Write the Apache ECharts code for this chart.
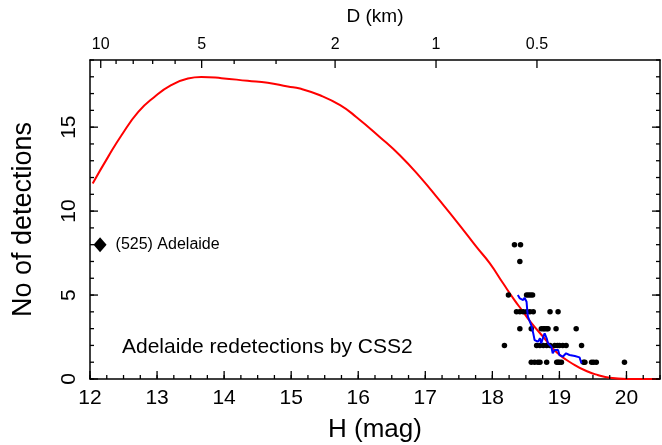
<!DOCTYPE html>
<html>
<head>
<meta charset="utf-8">
<script src="https://cdn.jsdelivr.net/npm/echarts@6/dist/echarts.min.js"></script>
<style>html,body{margin:0;padding:0;background:#fff}#c{width:662px;height:445px}</style>
</head>
<body>
<div id="c"></div>
<script>
// ---- data ----
var redH = [12.04,12.27,12.47,12.72,12.96,13.21,13.46,13.66,13.96,14.35,14.65,14.95,15.13,15.43,15.73,15.97,16.32,16.62,16.92,17.21,17.51,17.76,17.96,18.16,18.33,18.46,18.56,18.76,18.97,19.23,19.43,19.57,19.75,20.0,20.5];
var redN = [11.65,13.23,14.52,15.91,16.80,17.50,17.90,17.99,17.92,17.76,17.64,17.42,17.30,16.90,16.31,15.61,14.42,13.33,12.04,10.65,9.17,7.88,6.9,5.7,4.7,4.0,3.45,2.5,1.55,0.83,0.43,0.24,0.07,0.0,0.0];

var blueH = [18.38,18.41,18.43,18.46,18.48,18.51,18.52,18.53,18.58,18.61,18.63,18.68,18.71,18.73,18.76,18.78,18.81,18.83,18.88,18.90,18.93,18.95,18.98,19.00,19.05,19.10,19.15,19.23,19.30,19.33];
var blueN = [5.0,4.80,4.90,4.70,4.84,4.60,4.11,3.71,3.21,2.72,2.32,2.22,2.42,2.13,2.52,2.72,2.42,2.13,1.92,1.53,1.73,1.83,1.73,1.43,1.33,1.53,1.43,1.37,1.29,0.93];

var dotH = [18.33,18.42,
            18.41,
            18.24,18.51,18.54,18.57,18.60,
            18.36,18.41,18.46,18.51,18.56,18.61,18.86,18.98,
            18.41,18.58,18.73,18.76,18.78,18.81,18.83,18.95,19.25,
            18.18,18.66,18.71,18.76,18.81,18.86,18.93,18.97,19.00,19.05,19.10,19.33,
            18.58,18.63,18.68,18.71,18.81,18.96,18.98,19.00,19.03,19.36,19.38,19.48,19.51,19.55,19.97];
var dotN = [8,8,
            7,
            5,5,5,5,5,
            4,4,4,4,4,4,4,4,
            3,3,3,3,3,3,3,3,3,
            2,2,2,2,2,2,2,2,2,2,2,2,
            1,1,1,1,1,1,1,1,1,1,1,1,1,1,1];

var adelaideH = [12.15];
var adelaideN = [8];
var adelaideName = '(525) Adelaide';

var xMajorTicks = [12,13,14,15,16,17,18,19,20];
var yMajorTicks = [0,5,10,15];
var dMajorTicks = [10,5,2,1,0.5];
var dMinorTicks = [9,8,7,6,4,3];
var H0 = 17.16; // H at D = 1 km (from top axis)

// ---- derived ----
var X_MIN = 12, X_MAX = 20.5, Y_MIN = 0, Y_MAX = 19;
function zip(a,b){return a.map(function(v,i){return [v,b[i]];});}
function hOfD(d){return H0 - 5*Math.log10(d);}
var dMajorH = dMajorTicks.map(hOfD);
var dMinorH = dMinorTicks.map(hOfD);
var xMinorTicks = []; for (var i=0; X_MIN + i*0.25 <= X_MAX + 1e-9; i++) xMinorTicks.push(X_MIN + i*0.25);
var yMinorTicks = []; for (var j=Y_MIN; j<=Y_MAX; j++) yMinorTicks.push(j);

var FONT = 'Liberation Sans';
var black = '#000';

function axis(pos, isX, opts){
  var o = {
    type:'value', position:pos,
    min: isX ? X_MIN : Y_MIN, max: isX ? X_MAX : Y_MAX,
    axisLine:{show:true, onZero:false, lineStyle:{color:black, width:1.5}},
    axisLabel:{show:false},
    axisTick:{show:false},
    splitLine:{show:false}
  };
  return Object.assign(o, opts);
}

// inward tick marks drawn through the cartesian scales (custom series)
function tickSeries(values, sides, len){
  var isX = (sides[0] === 'bottom' || sides[0] === 'top');
  return {
    type:'custom', coordinateSystem:'cartesian2d', xAxisIndex:0, yAxisIndex:0,
    clip:false, silent:true, z:10,
    data: values.map(function(v){ return isX ? [v, Y_MIN] : [X_MIN, v]; }),
    renderItem: function(params, api){
      var v = api.value(isX ? 0 : 1);
      var kids = [];
      sides.forEach(function(s){
        var p, shape;
        if (s === 'bottom') { p = api.coord([v, Y_MIN]); shape = {x1:p[0], y1:p[1], x2:p[0], y2:p[1]-len}; }
        else if (s === 'top') { p = api.coord([v, Y_MAX]); shape = {x1:p[0], y1:p[1], x2:p[0], y2:p[1]+len}; }
        else if (s === 'left') { p = api.coord([X_MIN, v]); shape = {x1:p[0], y1:p[1], x2:p[0]+len, y2:p[1]}; }
        else { p = api.coord([X_MAX, v]); shape = {x1:p[0], y1:p[1], x2:p[0]-len, y2:p[1]}; }
        kids.push({type:'line', shape:shape, style:{stroke:black, lineWidth:1.3}});
      });
      return {type:'group', children:kids};
    }
  };
}

var chart = echarts.init(document.getElementById('c'), null, {renderer:'canvas'});
chart.setOption({
  animation:false,
  backgroundColor:'#fff',
  title:{
    text:'Adelaide redetections by CSS2', left:117, top:332,
    textStyle:{fontFamily:FONT, fontSize:21, fontWeight:'normal', color:black}
  },
  grid:{left:90, right:2, top:60, bottom:66, outerBoundsMode:'none'},
  xAxis:[
    axis('bottom', true, {
      name:'H (mag)', nameLocation:'middle', nameGap:38,
      nameTextStyle:{fontFamily:FONT, fontSize:26, color:black},
      axisLabel:{show:true, customValues:xMajorTicks, margin:9, fontFamily:FONT, fontSize:21, color:black}
    }),
    axis('top', true, {
      name:'D (km)', nameLocation:'middle', nameGap:34,
      nameTextStyle:{fontFamily:FONT, fontSize:19, color:black},
      axisLabel:{show:true, customValues:dMajorH, margin:7, fontFamily:FONT, fontSize:16, color:black,
        formatter:function(v){
          var best=0, bd=1e9;
          dMajorH.forEach(function(h,k){var d=Math.abs(h-v); if(d<bd){bd=d;best=k;}});
          return String(dMajorTicks[best]);
        }}
    })
  ],
  yAxis:[
    axis('left', false, {
      name:'No of detections', nameLocation:'middle', nameGap:53,
      nameTextStyle:{fontFamily:FONT, fontSize:27, color:black},
      axisLabel:{show:true, customValues:yMajorTicks, rotate:90, margin:10, fontFamily:FONT, fontSize:21, color:black}
    }),
    axis('right', false, {})
  ],
  series:[
    {
      type:'line', xAxisIndex:0, yAxisIndex:0, data:zip(redH, redN),
      smooth:0.5, showSymbol:false, symbol:'none',
      lineStyle:{color:'#ff0000', width:2}, z:2
    },
    {
      type:'scatter', xAxisIndex:0, yAxisIndex:0, data:zip(dotH, dotN),
      symbol:'circle', symbolSize:5.5, itemStyle:{color:black, opacity:1}, z:3
    },
    {
      type:'line', xAxisIndex:0, yAxisIndex:0, data:zip(blueH, blueN),
      showSymbol:false, symbol:'none', lineStyle:{color:'#0000ff', width:2}, z:4
    },
    {
      type:'scatter', xAxisIndex:0, yAxisIndex:0, data:zip(adelaideH, adelaideN),
      symbol:'diamond', symbolSize:[13,15], itemStyle:{color:black, opacity:1}, z:5,
      label:{show:true, position:'right', distance:9, formatter:adelaideName,
        fontFamily:FONT, fontSize:16, color:black}
    },
    tickSeries(xMajorTicks, ['bottom'], 8),
    tickSeries(xMinorTicks, ['bottom'], 4),
    tickSeries(dMajorH, ['top'], 8),
    tickSeries(dMinorH, ['top'], 4),
    tickSeries(yMajorTicks, ['left','right'], 8),
    tickSeries(yMinorTicks, ['left','right'], 4)
  ]
});
</script>
</body>
</html>
